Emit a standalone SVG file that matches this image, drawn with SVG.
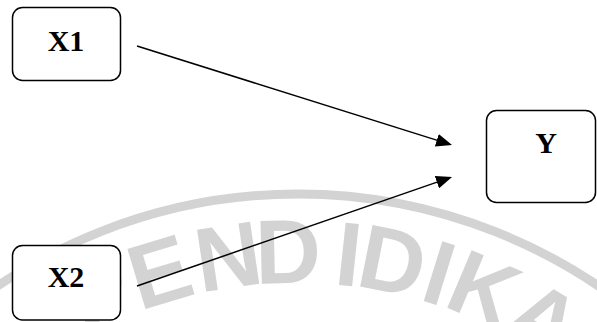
<svg xmlns="http://www.w3.org/2000/svg" width="597" height="322" viewBox="0 0 597 322">
  <style>
    .box { fill: #ffffff; stroke: #000000; stroke-width: 1.5; }
    .lbl { font-family: "Liberation Serif", "Times New Roman", serif; font-weight: bold; font-size: 30px; fill: #000000; text-anchor: middle; }
    .wm { font-family: "Liberation Sans", Arial, sans-serif; font-weight: bold; font-size: 91px; fill: #d3d3d3; text-anchor: middle; }
    .conn { stroke: #000000; stroke-width: 1.5; fill: none; marker-end: url(#arrow); }
  </style>
  <defs>
    <marker id="arrow" markerUnits="userSpaceOnUse" markerWidth="16" markerHeight="13" refX="4" refY="6.5" orient="auto">
      <path d="M0,0 L16,6.5 L0,13 z" fill="#000000"/>
    </marker>
  </defs>
  <rect width="597" height="322" fill="#ffffff"/>
  <g id="watermark">
    <circle cx="298" cy="730" r="536" fill="none" stroke="#d3d3d3" stroke-width="9"/>
    <text class="wm" transform="translate(112.6,323.2) rotate(-24.5)">P</text>
    <text class="wm" transform="translate(168.8,302.1) rotate(-16.8)">E</text>
    <text class="wm" transform="translate(232.7,287.8) rotate(-8.4)">N</text>
    <text class="wm" transform="translate(288.7,283.1) rotate(-1.2)">D</text>
    <text class="wm" transform="translate(345.5,285.5) rotate(6.1)">I</text>
    <text class="wm" transform="translate(386.4,291.8) rotate(11.4)">D</text>
    <text class="wm" transform="translate(430.2,303.0) rotate(17.2)">I</text>
    <text class="wm" transform="translate(471.9,318.2) rotate(22.9)">K</text>
    <text class="wm" transform="translate(528.2,346.8) rotate(31)">A</text>
  </g>
  <g id="connectors">
    <line class="conn" x1="137" y1="46" x2="440.6" y2="141.4"/>
    <line class="conn" x1="137" y1="286" x2="440.7" y2="180.9"/>
  </g>
  <g id="X1">
    <rect class="box" x="12.5" y="7.5" width="108" height="73" rx="10"/>
    <text class="lbl" x="66" y="51">X1</text>
  </g>
  <g id="X2">
    <rect class="box" x="12.5" y="245.5" width="108" height="74.5" rx="10"/>
    <text class="lbl" x="66" y="287">X2</text>
  </g>
  <g id="Y">
    <rect class="box" x="486.5" y="110.5" width="109" height="92" rx="10"/>
    <text class="lbl" x="546" y="153">Y</text>
  </g>
</svg>
